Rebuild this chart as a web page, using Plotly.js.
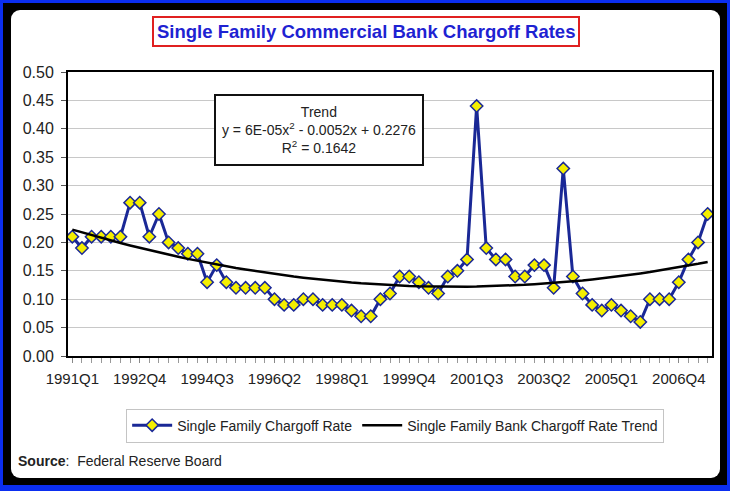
<!DOCTYPE html>
<html>
<head>
<meta charset="utf-8">
<script src="https://cdn.plot.ly/plotly-3.0.1.min.js"></script>
<style>
  html, body { margin: 0; padding: 0; }
  #outer { position: relative; width: 730px; height: 491px; background: #0b2ef0; overflow: hidden; }
  #black { position: absolute; left: 3px; top: 3px; width: 724px; height: 482px; background: #000; }
  #panel { position: absolute; left: 11px; top: 10px; width: 709px; height: 468px; background: #fff; border-radius: 9px; }
  #chart { position: absolute; left: 0; top: 0; width: 730px; height: 491px; }
</style>
</head>
<body>
<div id="outer">
  <div id="black"></div>
  <div id="panel"></div>
  <div id="chart"></div>
</div>
<script>
// Quarter categories
const quarters = [
  "1991Q1","1991Q2","1991Q3","1991Q4","1992Q1","1992Q2","1992Q3","1992Q4",
  "1993Q1","1993Q2","1993Q3","1993Q4","1994Q1","1994Q2","1994Q3","1994Q4",
  "1995Q1","1995Q2","1995Q3","1995Q4","1996Q1","1996Q2","1996Q3","1996Q4",
  "1997Q1","1997Q2","1997Q3","1997Q4","1998Q1","1998Q2","1998Q3","1998Q4",
  "1999Q1","1999Q2","1999Q3","1999Q4","2000Q1","2000Q2","2000Q3","2000Q4",
  "2001Q1","2001Q2","2001Q3","2001Q4","2002Q1","2002Q2","2002Q3","2002Q4",
  "2003Q1","2003Q2","2003Q3","2003Q4","2004Q1","2004Q2","2004Q3","2004Q4",
  "2005Q1","2005Q2","2005Q3","2005Q4","2006Q1","2006Q2","2006Q3","2006Q4",
  "2007Q1","2007Q2","2007Q3"
];
// Single family charge-off rate (%)
const chargoffRate = [
  0.21,0.19,0.21,0.21,0.21,0.21,0.27,0.27,
  0.21,0.25,0.20,0.19,0.18,0.18,0.13,0.16,
  0.13,0.12,0.12,0.12,0.12,0.10,0.09,0.09,
  0.10,0.10,0.09,0.09,0.09,0.08,0.07,0.07,
  0.10,0.11,0.14,0.14,0.13,0.12,0.11,0.14,
  0.15,0.17,0.44,0.19,0.17,0.17,0.14,0.14,
  0.16,0.16,0.12,0.33,0.14,0.11,0.09,0.08,
  0.09,0.08,0.07,0.06,0.10,0.10,0.10,0.13,
  0.17,0.20,0.25
];
const tickLabels = ["1991Q1","1992Q4","1994Q3","1996Q2","1998Q1","1999Q4","2001Q3","2003Q2","2005Q1","2006Q4"];

const xIdx = quarters.map((q, i) => i);
const tickVals = tickLabels.map(t => quarters.indexOf(t));

// Polynomial (order 2) least-squares trend, x = 1..n as in Excel
function quadFit(ys) {
  let S = [0,0,0,0,0], T = [0,0,0];
  ys.forEach((y, i) => {
    const x = i + 1;
    for (let k = 0; k < 5; k++) S[k] += Math.pow(x, k);
    for (let k = 0; k < 3; k++) T[k] += y * Math.pow(x, k);
  });
  const A = [[S[0],S[1],S[2],T[0]],[S[1],S[2],S[3],T[1]],[S[2],S[3],S[4],T[2]]];
  for (let c = 0; c < 3; c++) {
    for (let r = c + 1; r < 3; r++) {
      const f = A[r][c] / A[c][c];
      for (let k = c; k < 4; k++) A[r][k] -= f * A[c][k];
    }
  }
  const b = [0,0,0];
  for (let r = 2; r >= 0; r--) {
    let s = A[r][3];
    for (let k = r + 1; k < 3; k++) s -= A[r][k] * b[k];
    b[r] = s / A[r][r];
  }
  return b;
}
const coef = quadFit(chargoffRate);
const trend = chargoffRate.map((y, i) => coef[0] + coef[1] * (i + 1) + coef[2] * (i + 1) * (i + 1));

const traces = [
  {
    x: xIdx, y: chargoffRate, type: 'scatter', mode: 'lines+markers',
    name: 'Single Family Chargoff Rate',
    line: { color: '#1a2896', width: 3 },
    marker: { symbol: 'diamond', size: 9.5, color: '#f4ee00', line: { color: '#1a2896', width: 1.5 } },
    text: quarters, hoverinfo: 'text+y'
  },
  {
    x: xIdx, y: trend, type: 'scatter', mode: 'lines',
    name: 'Single Family Bank Chargoff Rate Trend',
    line: { color: '#000', width: 2.5 }
  }
];

const layout = {
  width: 730, height: 491,
  paper_bgcolor: 'rgba(0,0,0,0)',
  plot_bgcolor: '#fff',
  margin: { l: 68, r: 18, t: 72, b: 135 },
  font: { family: 'Liberation Sans, Arial, sans-serif', color: '#222' },
  showlegend: true,
  legend: {
    orientation: 'h', x: 0.508, xanchor: 'center', y: -0.185, yanchor: 'top',
    bordercolor: '#c4c4c4', borderwidth: 1, bgcolor: '#fff',
    font: { size: 14, color: '#222' }, itemwidth: 40
  },
  xaxis: {
    range: [-0.45, 66.45],
    tickmode: 'array', tickvals: tickVals, ticktext: tickLabels,
    tickfont: { size: 15, color: '#222' },
    ticks: 'outside', ticklen: 5, tickcolor: '#888', ticklabelstandoff: 3,
    minor: { tickmode: 'linear', tick0: 0, dtick: 1, ticks: 'outside', ticklen: 5, tickcolor: '#999', showgrid: false },
    showgrid: false, zeroline: false,
    showline: true, linecolor: '#000', linewidth: 2, mirror: true
  },
  yaxis: {
    range: [0, 0.5], dtick: 0.05, tick0: 0, tickformat: '.2f',
    tickfont: { size: 16, color: '#222' },
    ticks: 'outside', ticklen: 5, tickcolor: '#555', ticklabelstandoff: 4,
    showgrid: true, gridcolor: '#c8c8c8', gridwidth: 1, zeroline: false,
    showline: true, linecolor: '#000', linewidth: 2, mirror: true
  },
  annotations: [
    {
      xref: 'paper', yref: 'paper', x: 0.4627, y: 1.141, xanchor: 'center', yanchor: 'middle',
      text: '<b>Single Family Commercial Bank Chargoff Rates</b>', showarrow: false,
      font: { size: 18.5, color: '#1e22d2' },
      bordercolor: '#e02020', borderwidth: 2, borderpad: 3, bgcolor: '#fff'
    },
    {
      xref: 'paper', yref: 'paper', x: 0.39, y: 0.7975, xanchor: 'center', yanchor: 'middle',
      text: 'Trend<br>y = 6E-05x<sup>2</sup> - 0.0052x + 0.2276<br>R<sup>2</sup> = 0.1642',
      showarrow: false, align: 'center', valign: 'middle',
      font: { size: 14, color: '#222' },
      bordercolor: '#111', borderwidth: 2, borderpad: 4, bgcolor: '#fff', width: 198, height: 60
    },
    {
      xref: 'paper', yref: 'paper', x: -0.0806, y: -0.37, xanchor: 'left', yanchor: 'middle',
      text: '<b>Source</b>:  Federal Reserve Board', showarrow: false,
      font: { size: 14, color: '#222' }
    }
  ]
};

Plotly.newPlot('chart', traces, layout, { displayModeBar: false, staticPlot: true });
</script>
</body>
</html>
